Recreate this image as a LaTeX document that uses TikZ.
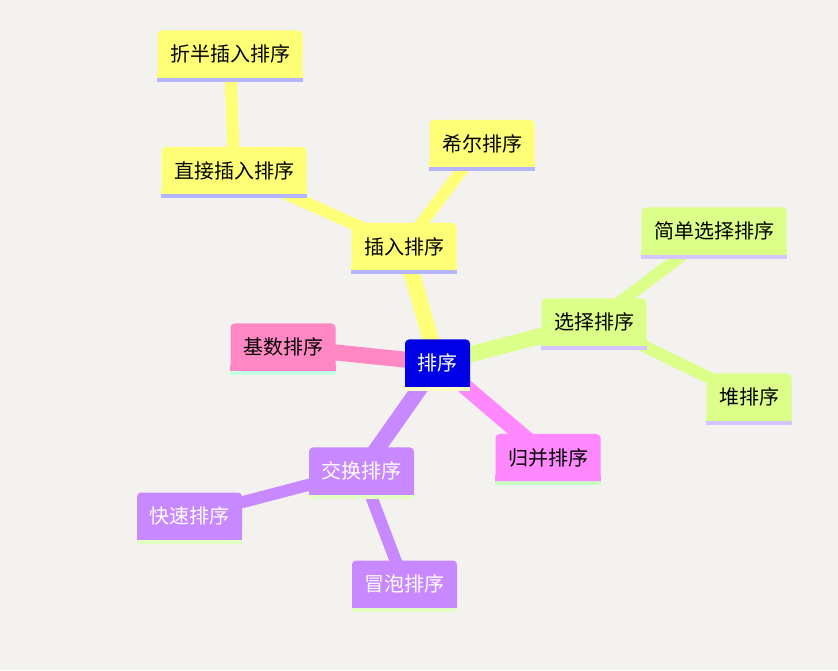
\documentclass[tikz,border=0pt]{standalone}
\usepackage{fontspec}
\newfontfamily\cjk{Noto Sans CJK SC}
\usetikzlibrary{backgrounds}

\definecolor{paper}{HTML}{F3F2EF}
\definecolor{rootblue}{HTML}{0000E6}
\definecolor{rootline}{HTML}{FFFFC4}
\definecolor{yel}{HTML}{FFFF77}
\definecolor{yelline}{HTML}{B4B4FF}
\definecolor{grn}{HTML}{DBFF88}
\definecolor{grnline}{HTML}{D4C4FF}
\definecolor{pnk}{HTML}{FF88C4}
\definecolor{pnkline}{HTML}{C4FFE4}
\definecolor{mag}{HTML}{FF88FF}
\definecolor{magline}{HTML}{C4FFC4}
\definecolor{pur}{HTML}{C888FF}
\definecolor{purline}{HTML}{E4FFC4}

\begin{document}
\begin{tikzpicture}[x=1pt, y=1pt,
		tile/.style={fill=#1, rounded corners=4pt, minimum height=47pt, inner xsep=12.5pt, inner ysep=0pt, font=\cjk\fontsize{20}{20}\selectfont},
		branch/.style={line width=16pt, #1},
		twig/.style={line width=12pt, #1}]
		\useasboundingbox (0, 0) rectangle (838, 670);

		% centre
		\node (root) at (437.5, 307) [tile=rootblue, text=white] {排序};

		% insertion sorts
		\node (ins) at (404, 423.5) [tile=yel] {插入排序};
		\node (shell) at (482, 526.5) [tile=yel] {希尔排序};
		\node (direct) at (234, 499.5) [tile=yel] {直接插入排序};
		\node (binary) at (230, 616) [tile=yel] {折半插入排序};

		% selection sorts
		\node (sel) at (594, 348) [tile=grn] {选择排序};
		\node (simple) at (714, 439) [tile=grn] {简单选择排序};
		\node (heap) at (749, 273) [tile=grn] {堆排序};

		% radix and merge
		\node (radix) at (283, 323) [tile=pnk] {基数排序};
		\node (merge) at (548, 212.5) [tile=mag] {归并排序};

		% exchange sorts
		\node (swap) at (361.5, 199) [tile=pur, text=white] {交换排序};
		\node (quick) at (189.5, 154) [tile=pur, text=white] {快速排序};
		\node (bubble) at (404.5, 86) [tile=pur, text=white] {冒泡排序};

		\begin{pgfonlayer}{background}
			\fill [paper] (0, 0) rectangle (838, 670);

			% branches
			\draw [branch=yel] (root.center) -- (ins.center);
			\draw [branch=grn] (root.center) -- (sel.center);
			\draw [branch=pnk] (root.center) -- (radix.center);
			\draw [branch=mag] (root.center) -- (merge.center);
			\draw [branch=pur] (root.center) -- (swap.center);
			\draw [twig=yel] (ins.center) -- (shell.center);
			\draw [twig=yel] (ins.center) -- (direct.center);
			\draw [twig=yel] (direct.center) -- (binary.center);
			\draw [twig=grn] (sel.center) -- (simple.center);
			\draw [twig=grn] (sel.center) -- (heap.center);
			\draw [twig=pur] (swap.center) -- (quick.center);
			\draw [twig=pur] (swap.center) -- (bubble.center);

			% square bottoms and underlines
			\foreach \n/\f/\u in {root/rootblue/rootline, ins/yel/yelline, shell/yel/yelline,
				direct/yel/yelline, binary/yel/yelline, sel/grn/grnline, simple/grn/grnline,
				heap/grn/grnline, radix/pnk/pnkline, merge/mag/magline, swap/pur/purline,
				quick/pur/purline, bubble/pur/purline}{
				\fill [\f] (\n.south west) rectangle ([yshift=6pt]\n.south east);
				\fill [\u] (\n.south west) rectangle ([yshift=-4pt]\n.south east);
			}
		\end{pgfonlayer}
	\end{tikzpicture}
\end{document}
